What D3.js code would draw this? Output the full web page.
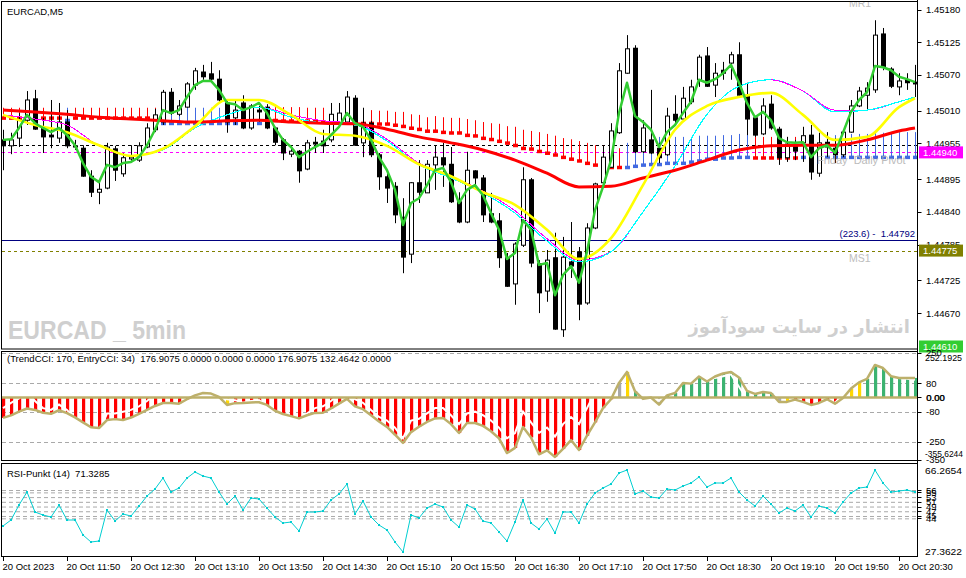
<!DOCTYPE html>
<html><head><meta charset="utf-8">
<script src="https://cdn.jsdelivr.net/npm/d3@7"></script>
<style>
body{margin:0;background:#fff}
svg{display:block}
text{font-family:"Liberation Sans",Arial,sans-serif}
</style>
</head><body>
<svg id="c" width="966" height="578"></svg>
<script>
// ---------------- DATA ----------------
const symbolTitle = "EURCAD,M5";
const timeLabels = ["20 Oct 2023","20 Oct 11:50","20 Oct 12:30","20 Oct 13:10","20 Oct 13:50","20 Oct 14:30","20 Oct 15:10","20 Oct 15:50","20 Oct 16:30","20 Oct 17:10","20 Oct 17:50","20 Oct 18:30","20 Oct 19:10","20 Oct 19:50","20 Oct 20:30"];
const timeLabelBars = [0,8,16,24,32,40,48,56,64,72,80,88,96,104,112];

const open = [1.44961,1.44951,1.44964,1.44994,1.45030,1.44981,1.44969,1.44964,1.44991,1.44951,
1.44947,1.44900,1.44873,1.44880,1.44946,1.44904,1.44929,1.44927,1.44949,1.44978,
1.44991,1.45041,1.45004,1.45016,1.45053,1.45075,1.45072,1.45063,1.45023,1.44998,
1.45023,1.44981,1.45011,1.45016,1.44981,1.44961,1.44937,1.44942,1.44912,1.44957,
1.44959,1.44961,1.44989,1.44991,1.45031,1.44956,1.44989,1.44936,1.44899,1.44883,
1.44831,1.44769,1.44889,1.44872,1.44919,1.44931,1.44920,1.44857,1.44823,1.44909,
1.44897,1.44837,1.44825,1.44763,1.44719,1.44784,1.44894,1.44753,1.44707,1.44763,
1.44642,1.44756,1.44773,1.44687,1.44813,1.44889,1.44915,1.44973,1.45073,1.45115,
1.44941,1.44961,1.44947,1.44936,1.45004,1.44996,1.45025,1.45062,1.45102,1.45053,
1.45078,1.45090,1.45104,1.45036,1.44998,1.44971,1.45021,1.44979,1.44931,1.44952,
1.44956,1.44969,1.44905,1.44957,1.44947,1.44936,1.44974,1.45018,1.45036,1.45045,
1.45139,1.45080,1.45050,1.45062,1.45058];
const high = [1.44978,1.44973,1.45006,1.45043,1.45045,1.44998,1.45028,1.45023,1.45011,1.44961,
1.44952,1.44910,1.44892,1.44956,1.44951,1.44939,1.44952,1.44957,1.44989,1.45013,
1.45045,1.45048,1.45028,1.45058,1.45082,1.45087,1.45092,1.45078,1.45028,1.45028,
1.45036,1.45021,1.45018,1.45021,1.44983,1.44964,1.44946,1.44944,1.44961,1.44966,
1.44978,1.45023,1.45023,1.45043,1.45036,1.45015,1.44993,1.44939,1.44905,1.44890,
1.44863,1.44890,1.44927,1.44927,1.44952,1.44956,1.44949,1.44873,1.44941,1.44910,
1.44902,1.44872,1.44838,1.44771,1.44789,1.44915,1.44897,1.44759,1.44776,1.44805,
1.44798,1.44823,1.44781,1.44821,1.44889,1.44951,1.44989,1.45090,1.45137,1.45120,
1.44994,1.45045,1.44956,1.45015,1.45036,1.45050,1.45062,1.45104,1.45117,1.45090,
1.45092,1.45109,1.45125,1.45057,1.45001,1.45031,1.45036,1.44983,1.44966,1.44961,
1.44983,1.44986,1.44973,1.44974,1.44964,1.44978,1.45028,1.45050,1.45058,1.45162,
1.45149,1.45083,1.45073,1.45073,1.45087];
const low = [1.44910,1.44937,1.44949,1.44986,1.44978,1.44939,1.44947,1.44956,1.44947,1.44944,
1.44899,1.44865,1.44853,1.44878,1.44892,1.44899,1.44924,1.44924,1.44947,1.44974,
1.44986,1.45003,1.45001,1.45015,1.45045,1.45062,1.45057,1.45025,1.44973,1.44986,
1.44979,1.44978,1.44991,1.44979,1.44952,1.44927,1.44932,1.44889,1.44910,1.44939,
1.44939,1.44957,1.44986,1.44989,1.44951,1.44932,1.44932,1.44877,1.44855,1.44821,
1.44737,1.44754,1.44855,1.44872,1.44877,1.44882,1.44855,1.44821,1.44821,1.44882,
1.44823,1.44821,1.44746,1.44714,1.44684,1.44781,1.44747,1.44670,1.44689,1.44642,
1.44630,1.44729,1.44658,1.44684,1.44811,1.44887,1.44914,1.44971,1.45072,1.44939,
1.44939,1.44937,1.44922,1.44934,1.44986,1.44994,1.45021,1.45050,1.45050,1.45033,
1.45062,1.45062,1.45035,1.44969,1.44966,1.44969,1.44978,1.44919,1.44924,1.44927,
1.44924,1.44894,1.44899,1.44932,1.44922,1.44932,1.44973,1.45016,1.45011,1.45040,
1.45078,1.45048,1.45036,1.45045,1.45033];
const close = [1.44951,1.44961,1.44994,1.45028,1.44979,1.44966,1.44966,1.44991,1.44951,1.44949,
1.44900,1.44873,1.44878,1.44949,1.44910,1.44931,1.44932,1.44951,1.44981,1.45003,
1.45041,1.45006,1.45018,1.45055,1.45077,1.45067,1.45063,1.45028,1.44991,1.45011,
1.44981,1.45018,1.45008,1.44981,1.44957,1.44939,1.44942,1.44909,1.44956,1.44954,
1.44951,1.45004,1.45006,1.45033,1.44952,1.44989,1.44936,1.44899,1.44880,1.44835,
1.44764,1.44889,1.44873,1.44920,1.44932,1.44919,1.44857,1.44823,1.44910,1.44897,
1.44835,1.44823,1.44763,1.44715,1.44786,1.44894,1.44754,1.44704,1.44759,1.44643,
1.44764,1.44749,1.44685,1.44813,1.44887,1.44932,1.44976,1.45077,1.45114,1.44941,
1.44981,1.44939,1.44931,1.45001,1.44994,1.45031,1.45050,1.45100,1.45051,1.45073,
1.45073,1.45104,1.45036,1.44996,1.44969,1.45018,1.44981,1.44931,1.44954,1.44942,
1.44968,1.44907,1.44956,1.44949,1.44936,1.44974,1.45018,1.45043,1.45048,1.45137,
1.45083,1.45051,1.45060,1.45057,1.45055];

// fast MA (green), one value per bar
const fastMA = [1.44961,1.44962,1.44981,1.45003,1.44989,1.44981,1.44974,1.44981,1.44969,1.44952,
1.44922,1.44899,1.44890,1.44919,1.44915,1.44922,1.44924,1.44932,1.44952,1.44978,
1.45011,1.45006,1.45011,1.45033,1.45053,1.45060,1.45060,1.45045,1.45023,1.45021,
1.45011,1.45016,1.45023,1.45006,1.44981,1.44961,1.44949,1.44932,1.44941,1.44949,
1.44956,1.44969,1.44983,1.45006,1.44989,1.44983,1.44961,1.44932,1.44910,1.44877,
1.44818,1.44855,1.44863,1.44885,1.44910,1.44914,1.44890,1.44855,1.44877,1.44885,
1.44868,1.44838,1.44810,1.44761,1.44771,1.44826,1.44810,1.44751,1.44754,1.44700,
1.44734,1.44749,1.44721,1.44773,1.44843,1.44882,1.44927,1.45006,1.45057,1.45001,
1.44991,1.44978,1.44949,1.44974,1.44986,1.45006,1.45025,1.45062,1.45057,1.45063,
1.45073,1.45087,1.45057,1.45023,1.44999,1.45008,1.44994,1.44964,1.44957,1.44956,
1.44957,1.44932,1.44947,1.44952,1.44939,1.44973,1.45008,1.45028,1.45041,1.45085,
1.45083,1.45078,1.45067,1.45063,1.45058];

// slower moving averages, read every 4th bar
const maBars = [0,4,8,12,16,20,24,28,32,36,40,44,48,52,56,60,64,68,72,76,80,84,88,92,96,100,104,108,112,114];
const yellowMA = [1.45003,1.44986,1.44974,1.44952,1.44934,1.44946,1.44984,1.45028,1.45028,1.45003,
1.44971,1.44968,1.44951,1.44920,1.44900,1.44873,1.44852,1.44810,1.44761,1.44796,
1.44885,1.44978,1.45018,1.45033,1.45040,1.45003,1.44961,1.44966,1.45016,1.45031];
const magentaMA = [1.45003,1.44996,1.44986,1.44951,1.44934,1.44944,1.44981,1.45003,1.45016,1.45003,
1.44993,1.44989,1.44962,1.44922,1.44900,1.44875,1.44842,1.44795,1.44759,1.44773,
1.44840,1.44917,1.45004,1.45051,1.45062,1.45043,1.45011,1.45011,1.45025,1.45033];
const cyanMA = [null,null,null,null,1.44934,1.44944,1.44981,1.45003,1.45016,1.44999,
1.44989,1.44986,1.44959,1.44919,1.44897,1.44872,1.44838,1.44791,1.44756,1.44773,
1.44840,1.44917,1.45004,1.45051,1.45062,1.45043,1.45008,1.45011,1.45025,1.45033];
const redMA = [1.45011,1.45008,1.45004,1.44999,1.44996,1.44993,1.44991,1.44993,1.44994,1.44991,
1.44989,1.44988,1.44979,1.44966,1.44956,1.44944,1.44927,1.44905,1.44882,1.44883,
1.44897,1.44910,1.44927,1.44944,1.44951,1.44952,1.44952,1.44961,1.44976,1.44981];

// trend marker indicator: R = down (red), B = up (blue)
const trendDir = ("RRRRRRRR"+"B"+"RRRRRRRRRRR"+"BBBBBBBBBBBBB"+"RRRRRRRRRR"+"BB"+
  "RRRRRRRRRRRRRRRRRRRRRRRRRRRRRRRRR"+"BBBBBBBBBBBBBBBB"+"RRRRRR"+"BBBBBBBBBBBBBBB").split("");
const trendLevel = [1.44998,1.44998,1.44998,1.44998,1.44998,1.44998,1.44998,1.44998,1.44994,1.44998,
1.44998,1.44998,1.44998,1.44998,1.44998,1.44998,1.44998,1.44998,1.44998,1.44998,
1.44989,1.44989,1.44989,1.44989,1.44989,1.44989,1.44989,1.44989,1.44989,1.44989,
1.44989,1.44989,1.44989,1.44994,1.44994,1.44993,1.44993,1.44993,1.44993,1.44993,
1.44991,1.44991,1.44991,1.44991,1.44991,1.44989,1.44989,1.44988,1.44988,1.44986,
1.44984,1.44981,1.44979,1.44976,1.44976,1.44974,1.44973,1.44973,1.44969,1.44968,
1.44964,1.44962,1.44959,1.44956,1.44952,1.44947,1.44946,1.44942,1.44939,1.44936,
1.44932,1.44929,1.44926,1.44922,1.44919,1.44919,1.44915,1.44915,1.44915,1.44917,
1.44919,1.44920,1.44920,1.44922,1.44922,1.44922,1.44924,1.44926,1.44929,1.44929,
1.44931,1.44931,1.44932,1.44932,1.44931,1.44931,1.44931,1.44931,1.44931,1.44931,
1.44932,1.44932,1.44932,1.44932,1.44932,1.44932,1.44932,1.44932,1.44932,1.44932,
1.44932,1.44932,1.44932,1.44932,1.44932];
const trendTop = [1.45015,1.45015,1.45015,1.45015,1.45015,1.45015,1.45015,1.45015,1.45015,1.45015,
1.45015,1.45015,1.45015,1.45015,1.45015,1.45015,1.45015,1.45015,1.45015,1.45015,
1.45015,1.45015,1.45015,1.45015,1.45015,1.45015,1.45015,1.45015,1.45015,1.45015,
1.45015,1.45015,1.45015,1.45016,1.45016,1.45016,1.45016,1.45016,1.45015,1.45015,
1.45015,1.45015,1.45015,1.45015,1.45015,1.45011,1.45011,1.45010,1.45010,1.45008,
1.45008,1.45004,1.45003,1.44999,1.45001,1.44999,1.44998,1.44998,1.44996,1.44994,
1.44991,1.44989,1.44988,1.44984,1.44983,1.44978,1.44976,1.44974,1.44971,1.44968,
1.44964,1.44962,1.44959,1.44956,1.44952,1.44951,1.44947,1.44947,1.44956,1.44957,
1.44961,1.44964,1.44966,1.44966,1.44966,1.44966,1.44966,1.44968,1.44968,1.44968,
1.44969,1.44969,1.44971,1.44971,1.44966,1.44966,1.44966,1.44966,1.44966,1.44966,
1.44968,1.44968,1.44969,1.44969,1.44969,1.44971,1.44971,1.44971,1.44971,1.44973,
1.44973,1.44973,1.44974,1.44974,1.44974];

// horizontal levels
const levelBlack = 1.44952;
const levelPivot = 1.44940;
const levelFibo = 1.44792;
const levelMS1 = 1.44775;
const levelLow = 1.44610;
const priceTicks = [1.45180,1.45125,1.45070,1.45010,1.44955,1.44895,1.44840,1.44785,1.44725,1.44670];

// CCI panel
const cciTitle = "(TrendCCI: 170, EntryCCI: 34)  176.9075 0.0000 0.0000 0.0000 176.9075 132.4642 0.0000";
const cciMax = 252.1925, cciMin = -355.6244;
const cciLevels = [250,80,-80,-250,-350];
const trendCCI = [-115,-101,-80,-62,-70,-86,-92,-72,-88,-112,
-140,-168,-172,-127,-122,-127,-113,-92,-70,-48,
-31,-31,-35,-10,12,25,22,3,-42,-32,
-31,-28,-27,-42,-75,-93,-105,-118,-100,-87,
-86,-62,-35,-8,-50,-66,-100,-135,-166,-210,
-256,-195,-165,-138,-118,-115,-150,-200,-144,-144,
-160,-190,-230,-313,-284,-166,-225,-320,-298,-335,
-290,-240,-296,-215,-140,-60,-10,82,144,35,
-8,0,-40,12,25,82,78,118,90,118,
135,144,112,37,20,31,25,-25,-25,-12,
-25,-42,-31,-10,-35,-3,50,85,105,183,
166,120,110,110,110];
const entryCCI = [-60,-30,-5,40,-20,-60,-70,-40,-70,-120,
-190,-220,-200,-90,-90,-80,-70,-50,-20,20,
80,60,50,90,120,110,100,60,-10,-15,
-30,-20,-15,-50,-100,-120,-130,-140,-90,-60,
-50,-20,20,60,-10,-30,-70,-110,-130,-170,
-230,-130,-120,-90,-60,-60,-100,-150,-90,-80,
-100,-130,-170,-230,-200,-80,-140,-200,-170,-220,
-150,-110,-150,-60,30,100,150,200,220,80,
40,30,-20,30,40,80,90,130,110,110,
120,130,60,-10,-30,-10,-20,-60,-50,-30,
-40,-70,-40,-20,-30,20,80,110,120,200,
170,130,110,105,100];
// D = down (red), U = up (green), W = warning (gold), N = neutral (grey), X = none
const cciState = ("DDDDDDDDDDDDDDDDDDDDDDDD"+"XXXX"+"W"+
  "DDDDDDDDDDDDDDDDDDDDDDDDDDDDDDDDDDDDDDDDDDDDDDDD"+"N"+"W"+"U"+"N"+"X"+"N"+
  "UUUUUUUUUUUUUU"+"N"+"W"+"DDDDDDD"+"WW"+"UUUUUUU").split("");

// RSI panel
const rsiTitle = "RSI-Punkt (14)  71.3285";
const rsiMax = 66.2654, rsiMin = 27.3622;
const rsiLevels = [56,55,53,51,49,47,45,44];
const rsi = [40.75,43.29,49.64,55.15,46.68,45.41,44.56,49.64,43.29,43.29,
36.93,33.97,34.39,47.53,42.86,45.83,44.98,49.22,53.46,56.42,
61.08,55.15,56.85,61.08,63.63,61.93,61.08,55.15,50.07,53.46,
47.53,52.61,52.19,48.37,44.56,42.02,42.44,38.63,46.68,46.68,
47.10,51.76,54.31,58.54,45.83,51.34,44.56,41.17,39.05,33.97,
29.73,45.41,44.14,48.37,50.07,48.80,43.29,40.32,49.64,47.95,
42.86,42.02,38.20,34.39,42.44,51.76,42.02,39.47,43.71,37.78,
46.68,46.68,42.02,50.07,54.73,56.85,58.54,63.20,64.47,54.31,
55.58,53.03,52.61,56.42,56.00,57.69,58.97,61.51,57.27,58.97,
58.97,61.08,55.15,51.76,49.22,53.46,50.07,46.25,48.37,47.10,
49.64,44.56,49.22,48.37,46.25,50.92,54.73,56.85,57.27,64.47,
58.97,55.15,55.58,56.00,55.15];

// ---------------- DRAW ----------------
const svg = d3.select('#c');
const N = close.length;
const x = d3.scaleLinear().domain([0,114]).range([3,915]);
const y = d3.scaleLinear().domain([1.45196,1.44610]).range([0,348.8]);
const yC = d3.scaleLinear().domain([cciMax,cciMin]).range([352.7,460.6]);
const yR = d3.scaleLinear().domain([rsiMin,rsiMax]).range([557.6,465.8]);
const AX = 917.5;
const font = 9.5;

svg.append('rect').attr('width',966).attr('height',578).attr('fill','#fff');
const defs = svg.append('defs');
function clip(id,x0,y0,w,h){defs.append('clipPath').attr('id',id).append('rect').attr('x',x0).attr('y',y0).attr('width',w).attr('height',h);}
clip('cm',2,2,915,347);
clip('cc',2,352,915,108.5);
clip('cr',2,464.5,915,92);
clip('cmid',x(34),2,x(74)-x(34),347);
clip('cright',x(96),2,x(106)-x(96),347);

// ---- main panel ----
const gm = svg.append('g').attr('clip-path','url(#cm)');
// watermarks
gm.append('text').attr('x',8).attr('y',339).attr('font-size',26).attr('font-weight','bold')
  .attr('fill','#cfcfcf').attr('textLength',178).attr('lengthAdjust','spacingAndGlyphs').text('EURCAD _ 5min');
gm.append('text').attr('x',910).attr('y',333).attr('text-anchor','end').attr('font-size',18).attr('font-weight','bold')
  .style('font-family','"DejaVu Sans",sans-serif').attr('fill','#cfcfcf').text('انتشار در سایت سودآموز');

function hline(g,v,sc,color,dash,w){
  const yy=Math.round(sc(v))+0.5;
  g.append('line').attr('x1',2).attr('x2',917).attr('y1',yy).attr('y2',yy)
   .attr('stroke',color).attr('stroke-width',w||1).attr('stroke-dasharray',dash||null);
}
hline(gm,levelBlack,y,'#000','3,3');
hline(gm,levelPivot,y,'#ff00ff','3,3');
hline(gm,levelFibo,y,'#000080',null);
hline(gm,levelMS1,y,'#808000','3,3');
hline(gm,levelLow,y,'#32cd32','3,2');

// trend markers
const dirColor = {R:'#ff0000',B:'#4169e1'};
d3.range(N).forEach(i=>{
  const c = dirColor[trendDir[i]]||'#ff0000';
  gm.append('line').attr('x1',x(i)+0.5).attr('x2',x(i)+0.5)
    .attr('y1',y(trendTop[i])).attr('y2',y(trendLevel[i])).attr('stroke',c).attr('stroke-width',1);
  gm.append('rect').attr('x',x(i)-2).attr('y',y(trendLevel[i])-1.5).attr('width',5).attr('height',3.5).attr('fill',c);
});

// candles
const gc = gm.append('g');
d3.range(N).forEach(i=>{
  const cx=x(i);
  gc.append('line').attr('x1',cx+0.5).attr('x2',cx+0.5).attr('y1',y(high[i])).attr('y2',y(low[i]))
    .attr('stroke','#000').attr('stroke-width',1);
  const top=Math.min(y(open[i]),y(close[i])), bot=Math.max(y(open[i]),y(close[i]));
  const hgt=Math.max(bot-top,1);
  if(close[i]>=open[i]){
    gc.append('rect').attr('x',cx-1.5).attr('y',top).attr('width',4).attr('height',hgt)
      .attr('fill','#fff').attr('stroke','#000').attr('stroke-width',1);
  } else {
    gc.append('rect').attr('x',cx-2).attr('y',top-0.5).attr('width',5).attr('height',hgt+1).attr('fill','#000');
  }
});

// MA lines
const maLine = d3.line().defined(d=>d[1]!=null).x(d=>x(d[0])).y(d=>y(d[1])).curve(d3.curveMonotoneX);
function drawMA(g,vals,color,w,crisp){
  const p=g.append('path').attr('d',maLine(maBars.map((b,k)=>[b,vals[k]]))).attr('fill','none')
    .attr('stroke',color).attr('stroke-width',w).attr('stroke-linejoin','round');
  if(crisp) p.attr('shape-rendering','crispEdges');
  return p;
}
drawMA(gm,magentaMA,'#ff00ff',1,true);
drawMA(gm,cyanMA,'#00ffff',1.2,true);
// magenta is drawn on top where it hides the cyan average in the reference
drawMA(gm.append('g').attr('clip-path','url(#cmid)'),magentaMA,'#ff00ff',1,true);
drawMA(gm.append('g').attr('clip-path','url(#cright)'),magentaMA,'#ff00ff',1,true);
drawMA(gm,redMA,'#ff0000',3);
drawMA(gm,yellowMA,'#ffff00',2.6);
gm.append('path').attr('d',d3.line().x((d,i)=>x(i)).y(d=>y(d))(fastMA)).attr('fill','none')
  .attr('stroke','#32cd32').attr('stroke-width',2.5).attr('stroke-linejoin','round');

// object labels
gm.append('text').attr('x',849).attr('y',7).attr('font-size',10.5).attr('fill','#bdbdbd').text('MR1');
gm.append('text').attr('x',849).attr('y',262).attr('font-size',10.5).attr('fill','#bdbdbd').text('MS1');
gm.append('text').attr('x',817).attr('y',164).attr('font-size',11).attr('fill','#b0b0b0').attr('opacity',0.85)
  .style('white-space','pre').text('Friday  Daily Pivot');
gm.append('text').attr('x',915).attr('y',236.5).attr('text-anchor','end').attr('font-size',font)
  .attr('fill','#000080').style('white-space','pre').text('(223.6) -  '+levelFibo.toFixed(5));
svg.append('text').attr('x',7).attr('y',15).attr('font-size',font).attr('fill','#000').text(symbolTitle);

// ---- CCI panel ----
const gcc = svg.append('g').attr('clip-path','url(#cc)');
cciLevels.forEach(v=>hline(gcc,v,yC,'#a9a9a9','4,3'));
const stateColor = {D:'#ff0000',U:'#3cb371',W:'#ffd700',N:'#a9a9a9'};
d3.range(N).forEach(i=>{
  const s=cciState[i]; if(!stateColor[s]) return;
  const v=trendCCI[i]; const y0=yC(0), y1=yC(v);
  gcc.append('rect').attr('x',x(i)-1).attr('y',Math.min(y0,y1)).attr('width',3.2).attr('height',Math.abs(y1-y0)).attr('fill',stateColor[s]);
});
gcc.append('path').attr('d',d3.line().x((d,i)=>x(i)).y(d=>yC(d))(entryCCI)).attr('fill','none')
  .attr('stroke','#fff').attr('stroke-width',2);
gcc.append('line').attr('x1',2).attr('x2',917).attr('y1',yC(0)).attr('y2',yC(0)).attr('stroke','#bdb06b').attr('stroke-width',2.5);
gcc.append('path').attr('d',d3.line().x((d,i)=>x(i)).y(d=>yC(d))(trendCCI)).attr('fill','none')
  .attr('stroke','#bdb06b').attr('stroke-width',2.5).attr('stroke-linejoin','round');
svg.append('text').attr('x',7).attr('y',362).attr('font-size',font).style('white-space','pre').attr('fill','#000').text(cciTitle);

// ---- RSI panel ----
const gr = svg.append('g').attr('clip-path','url(#cr)');
rsiLevels.forEach(v=>{
  const yy=yR(v)+0.5;
  gr.append('line').attr('x1',2).attr('x2',917).attr('y1',yy).attr('y2',yy).attr('stroke','#a9a9a9').attr('stroke-dasharray','4,3');
});
gr.append('path').attr('d',d3.line().x((d,i)=>x(i)).y(d=>yR(d))(rsi)).attr('fill','none')
  .attr('stroke','#00ced1').attr('stroke-width',1);
gr.selectAll('rect.p').data(rsi).enter().append('rect').attr('x',(d,i)=>x(i)-1).attr('y',d=>yR(d)-1)
  .attr('width',2).attr('height',2).attr('fill','#00ced1');
svg.append('text').attr('x',7).attr('y',477).attr('font-size',font).style('white-space','pre').attr('fill','#000').text(rsiTitle);

// ---- frames ----
const fr = svg.append('g').attr('fill','none').attr('stroke','#000').attr('stroke-width',1);
fr.append('rect').attr('x',1.5).attr('y',1.5).attr('width',916).attr('height',347.5);
fr.append('rect').attr('x',1.5).attr('y',351.5).attr('width',916).attr('height',109);
fr.append('rect').attr('x',1.5).attr('y',463.5).attr('width',916).attr('height',93);
fr.append('line').attr('x1',AX).attr('x2',AX).attr('y1',0).attr('y2',557);

// ---- right axis ----
const ga = svg.append('g').attr('font-size',font).attr('fill','#000');
function axLabel(yy,txt,tick,len){
  if(tick!==false) ga.append('line').attr('x1',AX).attr('x2',AX+4).attr('y1',Math.round(yy)+0.5).attr('y2',Math.round(yy)+0.5).attr('stroke','#000');
  const t=ga.append('text').attr('x',926).attr('y',yy+3.5).text(txt);
  if(len) t.attr('x',925).attr('textLength',len).attr('lengthAdjust','spacingAndGlyphs');
}
priceTicks.forEach(v=>axLabel(y(v),v.toFixed(5)));
function box(v,color,yy){
  const cy = yy!==undefined?yy:y(v);
  ga.append('rect').attr('x',919).attr('y',cy-6).attr('width',44).attr('height',12).attr('fill',color);
  ga.append('text').attr('x',923).attr('y',cy+3.5).attr('fill','#fff').text(v.toFixed(5));
}
box(levelPivot,'#ff00ff');
box(levelMS1,'#808000');
box(levelLow,'#32cd32',346.5);

// CCI axis
axLabel(yC(250)-0.5,'250');
axLabel(yC(cciMax)+4.5,cciMax.toFixed(4),false,37);
axLabel(yC(80),'80');
axLabel(yC(0),'0.00');
ga.append('text').attr('x',926.6).attr('y',yC(0)+3.5).text('0.00');
axLabel(yC(-80),'-80');
axLabel(yC(-250),'-250');
axLabel(yC(-350),'-350');
axLabel(yC(cciMin)-7,cciMin.toFixed(4),false,38);

// RSI axis
axLabel(yR(rsiMax)+5,rsiMax.toFixed(4),false,37);
rsiLevels.forEach(v=>axLabel(yR(v),String(v)));
axLabel(yR(rsiMin)-6.5,rsiMin.toFixed(4),false,37);

// ---- time axis ----
timeLabelBars.forEach((b,k)=>{
  const xx=x(b)+0.5;
  svg.append('line').attr('x1',xx).attr('x2',xx).attr('y1',557).attr('y2',561).attr('stroke','#000');
  svg.append('text').attr('x',x(b)-0.5).attr('y',570).attr('font-size',font).attr('fill','#000').text(timeLabels[k]);
});
</script>
</body></html>
